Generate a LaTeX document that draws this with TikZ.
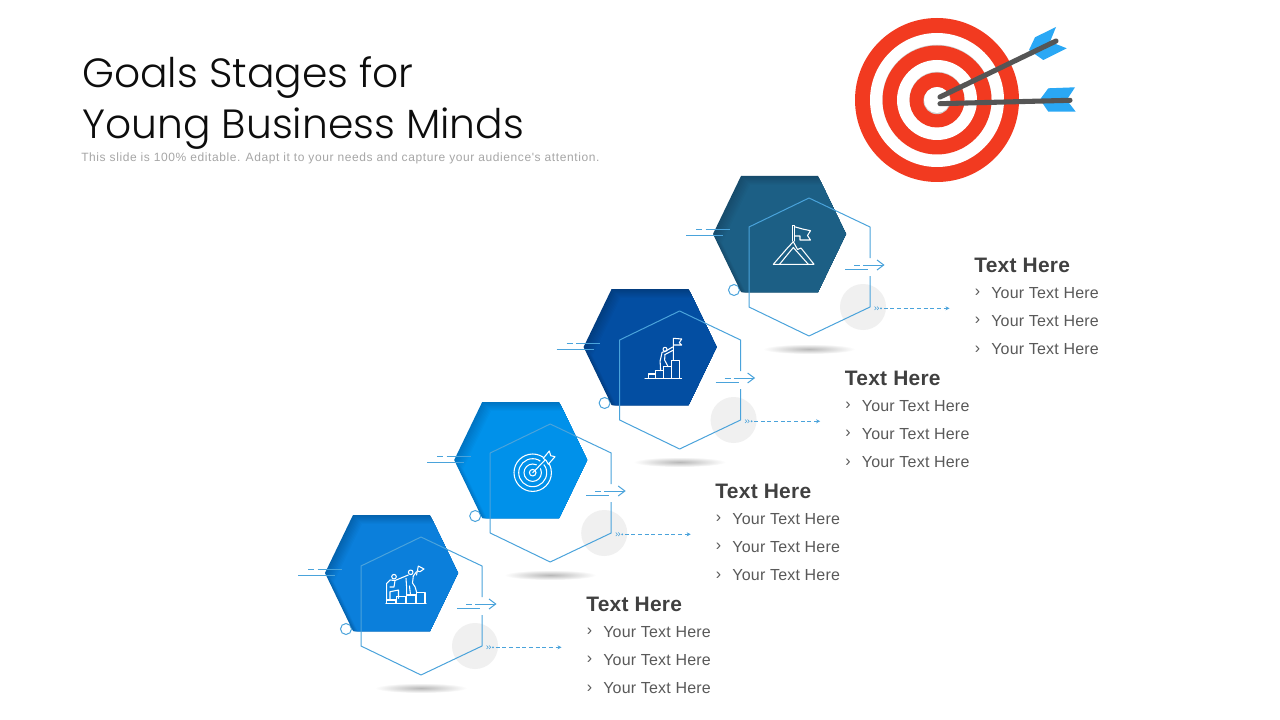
\documentclass[tikz,border=0pt]{standalone}
\usepackage{fontspec}
\setmainfont[LetterSpace=1.3]{Liberation Sans}
\newfontfamily\titlefont{Poppins Light}
\newfontfamily\subfont[LetterSpace=5]{Liberation Sans}
\usetikzlibrary{arrows.meta}

\definecolor{stageA}{HTML}{0B7FDB}
\definecolor{stageAdark}{HTML}{0463AE}
\definecolor{stageB}{HTML}{0091EA}
\definecolor{stageBdark}{HTML}{0074C2}
\definecolor{stageC}{HTML}{034EA2}
\definecolor{stageCdark}{HTML}{023D80}
\definecolor{stageD}{HTML}{1C5F85}
\definecolor{stageDdark}{HTML}{174C6C}
\definecolor{wire}{HTML}{4AA3DB}
\definecolor{targetred}{HTML}{F23A20}
\definecolor{shaft}{HTML}{555555}
\definecolor{feather}{HTML}{2AA8F5}

\tikzset{
    titletext/.style={anchor=west, inner sep=0pt, font=\titlefont\fontsize{30.6}{36}\selectfont, text=black!95},
    headtext/.style={anchor=west, inner sep=0pt, font=\bfseries\fontsize{15.7}{18}\selectfont, text=black!75},
    itemtext/.style={anchor=west, inner sep=0pt, font=\fontsize{12}{14}\selectfont, text=black!65},
    wireline/.style={draw=wire, line width=0.75pt},
    iconline/.style={draw=white, line width=0.8pt, line join=round, line cap=round},
    pics/mountainicon/.style={code={
        \draw[iconline] (-6.2,30.3) -- (34.5,30.3) -- (21.5,14) -- (18,15.5) -- (13.8,7.7) -- (7.5,14.5) -- cycle;
        \draw[iconline] (0,30.3) -- (13.8,13.5) -- (28.8,30.3);
        \draw[iconline] (13.2,7) -- (13.2,-8.3) -- (15,-8.3) -- (15,7);
        \draw[iconline] (15,-7.3) -- (23,-5) -- (31,-3.3) -- (28,1.5) -- (31,6) -- (20.5,6) -- (20.5,2) -- (15,2);
    }},
    pics/climbicon/.style={code={
        \draw[iconline] (-5.1,31.3) -- (31.6,31.3);
        \draw[iconline] (-1.8,31.3) -- (-1.8,27) -- (5.6,27) -- (5.6,31.3);
        \draw[iconline] (5.6,27) -- (5.6,23.7) -- (13.2,23.7) -- (13.2,31.3);
        \draw[iconline] (13.2,31.3) -- (13.2,19.7) -- (21.6,19.7) -- (21.6,31.3);
        \draw[iconline] (21.6,19.7) -- (21.6,13.7) -- (29.2,13.7) -- (29.2,31.3);
        \draw[iconline] (23.2,13) -- (23.2,-8.7) -- (31.6,-8) -- (29.2,-4.3) -- (31.6,-2) -- (23.2,-2);
        \draw[iconline] (14.9,2.3) circle[radius=2];
        \draw[iconline] (12,5.3) -- (10,14) -- (10.5,23.7);
        \draw[iconline] (14.9,7.5) -- (14.5,13) -- (18,19.7);
        \draw[iconline] (12,5.3) -- (15,4.5) -- (22.5,0);
        \draw[iconline] (14.9,7.5) -- (22.5,3.5);
    }},
    pics/targeticon/.style={code={
        \draw[iconline] (12,12.7) circle[radius=18.7];
        \draw[iconline] (12,12.7) circle[radius=14];
        \draw[iconline] (12,12.7) circle[radius=8.7];
        \draw[iconline] (12,12.7) circle[radius=3.3];
        \draw[draw=\main, line width=3.5pt] (15,9.5) -- (25,-1);
        \draw[iconline] (12,12.7) -- (26,-1.7);
        \draw[iconline, fill=\main] (22.6,-1.7) -- (28.6,-9) -- (30,-4.3) -- (34.3,-3.3) -- (27.6,4.3) -- (25.5,0.5) -- cycle;
    }},
    pics/teamicon/.style={code={
        \draw[iconline] (-5.5,30.3) -- (34.5,30.3);
        \draw[iconline] (-4.8,30.3) -- (-4.8,27) -- (4.5,27) -- (4.5,30.3);
        \draw[iconline] (5.2,30.3) -- (5.2,23.7) -- (14.5,23.7) -- (14.5,30.3);
        \draw[iconline] (15.2,30.3) -- (15.2,22) -- (24.5,22) -- (24.5,30.3);
        \draw[iconline] (25.2,30.3) -- (25.2,19.3) -- (33.5,19.3) -- (33.5,30.3);
        \draw[iconline] (2.5,3.7) circle[radius=2.3];
        \draw[iconline] (-4.8,27) -- (-4.8,10.3) -- (-1.5,7) -- (3.5,7.5) -- (16.8,2);
        \draw[iconline] (-1.5,27) -- (-1.5,18.7) -- (7,17) -- (7,25.3);
        \draw[iconline] (3.5,7.5) -- (2.5,14) -- (-1.5,14);
        \draw[iconline] (19.2,-0.7) circle[radius=2.3];
        \draw[iconline] (14.5,5.3) -- (15.2,15.3) -- (15.2,22);
        \draw[iconline] (21.8,3) -- (21,10) -- (23.5,13.7) -- (25,18.7);
        \draw[iconline] (18,13) -- (19,22);
        \draw[iconline] (21.8,3) -- (25,-1.3);
        \draw[iconline] (25,2) -- (26.8,-7) -- (32.5,-4) -- (28.5,-1.3) -- (26,-2);
    }},
    pics/stagehex/.style={code={
        % soft shadow and grey disc
        \shade[inner color=black!28, outer color=white] (29.5,115) ellipse[x radius=46, y radius=5];
        \fill[black!6] (83.5,73) circle[radius=23];
        \draw[wireline, fill=white] (-45.5,56) circle[radius=5.5];
        % hexagon with inner shade on its upper left
        \fill[\dark] (-38.5,-58) -- (38.5,-58) -- (66.5,0) -- (38.5,58) -- (-38.5,58) -- (-66.5,0) -- cycle;
        \begin{scope}
            \clip (-38.5,-58) -- (38.5,-58) -- (66.5,0) -- (38.5,58) -- (-38.5,58) -- (-66.5,0) -- cycle;
            \foreach \s in {1,...,9}
                \fill[\main!\the\numexpr\s*11\relax!\dark, shift={(\s,\s)}] (-38.5,-58) -- (38.5,-58) -- (66.5,0) -- (38.5,58) -- (-38.5,58) -- (-66.5,0) -- cycle;
        \end{scope}
        % open outline
        \draw[wireline, line join=round] (90.5,42) -- (90.5,73) -- (29.5,102) -- (-30.5,73) -- (-30.5,-7) -- (29.5,-36) -- (90.5,-7) -- (90.5,24);
        % speed lines
        \draw[wireline] (-83.5,-4) -- (-77.5,-4);
        \draw[wireline] (-74,-4) -- (-50,-4);
        \draw[wireline] (-93.5,2) -- (-56.5,2);
        \draw[wireline] (74.5,31) -- (80.5,31);
        \draw[wireline, -{Straight Barb[length=5pt, width=7.5pt]}] (83.5,31) -- (105,31);
        \draw[wireline] (65.5,35) -- (88.5,35);
        % chevrons and dotted leader
        \draw[wire, line width=0.4pt] (95,72.5) -- (96.7,74.3) -- (95,76);
        \draw[wire, line width=0.4pt] (97.5,72.5) -- (99.2,74.3) -- (97.5,76);
        \fill[wire] (101.5,74.3) circle[radius=1];
        \coordinate (leadstart) at (104,74.3);
        \coordinate (leadend) at (170,74.3);
        \draw[wire, line width=0.6pt, densely dashed, -{Stealth[length=3pt, width=3pt]}] (leadstart) -- (leadend);
        % text block
        \node[headtext] (head) at (194.5,31) {Text Here};
        \node[itemtext] (bulleta) at (195,59) {›};
        \node[itemtext] (bulletb) at (195,87) {›};
        \node[itemtext] (bulletc) at (195,115.5) {›};
        \node[itemtext] (itema) at (211.5,59) {Your Text Here};
        \node[itemtext] (itemb) at (211.5,87) {Your Text Here};
        \node[itemtext] (itemc) at (211.5,115.5) {Your Text Here};
    }},
}

\begin{document}
\begin{tikzpicture}[x=0.75pt, y=-0.75pt]
    \useasboundingbox (0,0) rectangle (1280,720);
    \fill[white] (0,0) rectangle (1280,720);

    \node[titletext] (titlea) at (82,78) {Goals Stages for};
    \node[titletext] (titleb) at (82,129) {Young Business Minds};
    \node[anchor=west, inner sep=0pt, font=\subfont\fontsize{9}{11}\selectfont, text=black!35] (subtitle) at (81,158.5) {This slide is 100\% editable. Adapt it to your needs and capture your audience's attention.};

    % the four stages
    \foreach \idx/\cx/\cy/\main/\dark/\icon in {
        a/391.5/573/stageA/stageAdark/teamicon,
        b/520.7/460/stageB/stageBdark/targeticon,
        c/650.1/347/stageC/stageCdark/climbicon,
        d/779.5/234/stageD/stageDdark/mountainicon}
    {
        \pic (stage\idx) at (\cx,\cy) {stagehex};
        \pic (icon\idx) at (\cx,\cy) {\icon};
    }

    % target
    \fill[targetred] (937,100) circle[radius=82];
    \fill[white] (937,100) circle[radius=67];
    \fill[black!20] (937,99.3) circle[radius=54.5];
    \fill[targetred] (937,100) circle[radius=54.5];
    \fill[white] (937,100) circle[radius=40];
    \fill[black!20] (937,99.3) circle[radius=27.5];
    \fill[targetred] (937,100) circle[radius=27.5];
    \fill[black!20] (937,100.7) circle[radius=13.5];
    \fill[white] (937,100) circle[radius=13];

    % arrows
    \fill[feather] (1029,50) -- (1035,37.3) -- (1056,27) -- (1050,41.7) -- (1066.7,48.3) -- (1043.3,60) -- cycle;
    \fill[feather] (1040,99.5) -- (1048.3,88.3) -- (1075,87.3) -- (1066.7,100) -- (1075.7,111.7) -- (1048.3,111.7) -- cycle;
    \coordinate (shaftA) at (940,97);
    \coordinate (shaftAend) at (1056,41);
    \coordinate (shaftB) at (940,103.7);
    \coordinate (shaftBend) at (1070,100.3);
    \draw[shaft, line width=3.8pt, line cap=round] (shaftA) -- (shaftAend);
    \draw[shaft, line width=3.8pt, line cap=round] (shaftB) -- (shaftBend);
\end{tikzpicture}
\end{document}
